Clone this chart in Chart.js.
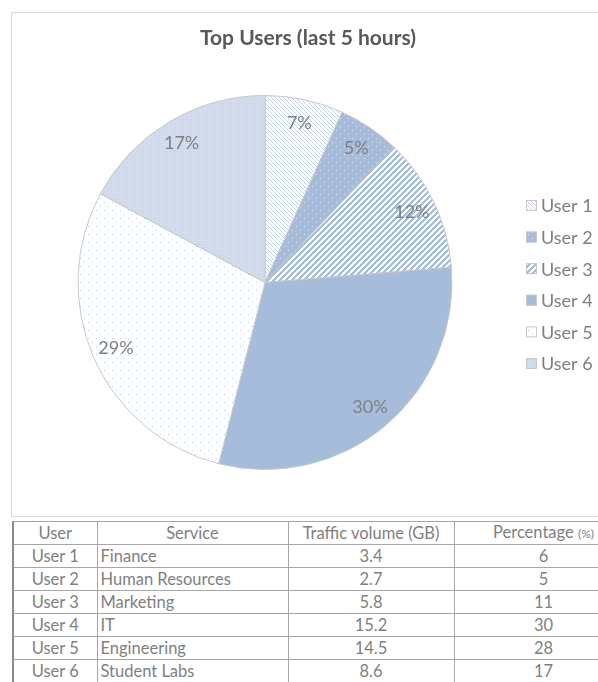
<!DOCTYPE html>
<html>
<head>
<meta charset="utf-8">
<script src="https://cdn.jsdelivr.net/npm/chart.js@4.4.1/dist/chart.umd.min.js"></script>
<style>
  body { margin: 0; background: #fff; font-family: Lato, "Open Sans", sans-serif; overflow: hidden; }
  #frame { position: absolute; left: 11px; top: 12px; width: 600px; height: 505px; border: 1px solid #d9d9d9; box-sizing: border-box; }
  #chartWrap { position: absolute; left: 11px; top: 13px; width: 586px; height: 504px; }
  table { position: absolute; left: 12px; top: 521px; border-collapse: collapse; table-layout: fixed; width: 620px; color: #7f7f7f; font-size: 16.5px; }
  td, th { border: 1px solid #a6a6a6; height: 22px; padding: 0 3px; font-weight: normal; white-space: nowrap; overflow: hidden; line-height: 20px; }
  td:first-child, th:first-child { border-left: 2px solid #8c8c8c; }
  .c { text-align: center; }
  .l { text-align: left; }
  small { font-size: 12px; }
</style>
</head>
<body>
<div id="frame"></div>
<div id="chartWrap"><canvas id="pie" width="586" height="504"></canvas></div>
<table id="tbl">
  <colgroup><col style="width:84px"><col style="width:191px"><col style="width:166px"><col style="width:179px"></colgroup>
  <thead></thead>
  <tbody></tbody>
</table>
<script>
// data
const users = ["User 1", "User 2", "User 3", "User 4", "User 5", "User 6"];
const services = ["Finance", "Human Resources", "Marketing", "IT", "Engineering", "Student Labs"];
const trafficGB = [3.4, 2.7, 5.8, 15.2, 14.5, 8.6];
const percentCol = [6, 5, 11, 30, 28, 17];
const headers = ["User", "Service", "Traffic volume (GB)", "Percentage"];
const chartTitle = "Top Users (last 5 hours)";

const BLUE = "#a5bddb";
const FONT = "Lato, 'Open Sans', sans-serif";

// small tile patterns, like the office fill styles
function makePattern(size, draw) {
  const c = document.createElement("canvas");
  c.width = c.height = size;
  const g = c.getContext("2d");
  draw(g, size);
  return g.createPattern(c, "repeat");
}

const fills = [
  // thin "\" hatch
  makePattern(4, (g, s) => {
    g.fillStyle = "#fff"; g.fillRect(0, 0, s, s);
    g.fillStyle = "#c3d3e8";
    for (let x = 0; x < s; x++) g.fillRect(x, x, 1, 1);
  }),
  // blue with white dots
  makePattern(8, (g, s) => {
    g.fillStyle = BLUE; g.fillRect(0, 0, s, s);
    g.fillStyle = "#dfe8f4";
    g.fillRect(1, 1, 1, 1); g.fillRect(5, 5, 1, 1);
  }),
  // wide "/" stripes
  makePattern(6, (g, s) => {
    g.fillStyle = "#fff"; g.fillRect(0, 0, s, s);
    g.fillStyle = BLUE;
    for (let x = 0; x < s; x++)
      for (let y = 0; y < s; y++)
        if ((x + y) % 6 < 3) g.fillRect(x, y, 1, 1);
  }),
  BLUE,
  // white with sparse blue dots
  makePattern(8, (g, s) => {
    g.fillStyle = "#fff"; g.fillRect(0, 0, s, s);
    g.fillStyle = "#bccde6";
    g.fillRect(1, 1, 1, 1); g.fillRect(5, 5, 1, 1);
  }),
  // light blue fine checker
  makePattern(4, (g, s) => {
    g.fillStyle = "#d5dfef"; g.fillRect(0, 0, s, s);
    g.fillStyle = "#c2d1e8";
    g.fillRect(0, 0, 1, 1); g.fillRect(2, 2, 1, 1); g.fillRect(2, 0, 1, 1); g.fillRect(0, 2, 1, 1);
  })
];

// title centred on the whole frame, not on the pie
const frameTitle = {
  id: "frameTitle",
  afterDraw(chart) {
    const ctx = chart.ctx;
    ctx.save();
    ctx.font = "bold 21px " + FONT;
    ctx.fillStyle = "#595959";
    ctx.textAlign = "center";
    ctx.textBaseline = "middle";
    ctx.fillText(chartTitle, 297, 25);
    ctx.restore();
  }
};

// percentage labels placed inside each slice
const pctLabels = {
  id: "pctLabels",
  afterDatasetsDraw(chart) {
    const ctx = chart.ctx;
    const data = chart.data.datasets[0].data;
    const total = data.reduce((a, b) => a + b, 0);
    ctx.save();
    ctx.font = "18px " + FONT;
    ctx.fillStyle = "#7f7f7f";
    ctx.textAlign = "center";
    ctx.textBaseline = "middle";
    chart.getDatasetMeta(0).data.forEach((arc, i) => {
      const p = arc.getProps(["x", "y", "startAngle", "endAngle", "outerRadius"], true);
      const mid = (p.startAngle + p.endAngle) / 2;
      const r = p.outerRadius * 0.87;
      ctx.fillText(Math.round(data[i] / total * 100) + "%", p.x + Math.cos(mid) * r, p.y + Math.sin(mid) * r);
    });
    ctx.restore();
  }
};

// legend on the right, drawn from the chart's labels and fills
const sideLegend = {
  id: "sideLegend",
  afterDraw(chart) {
    const ctx = chart.ctx;
    const ds = chart.data.datasets[0];
    ctx.save();
    ctx.font = "18px " + FONT;
    ctx.textBaseline = "middle";
    chart.data.labels.forEach((lab, i) => {
      const y = 192.5 + i * 31.6;
      ctx.fillStyle = ds.backgroundColor[i];
      ctx.fillRect(515, y - 5.5, 11, 11);
      ctx.strokeStyle = "#c8c8c8";
      ctx.lineWidth = 1;
      ctx.strokeRect(515.5, y - 5, 10, 10);
      ctx.fillStyle = "#7f7f7f";
      ctx.fillText(lab, 530, y + 1);
    });
    ctx.restore();
  }
};

new Chart(document.getElementById("pie"), {
  type: "pie",
  data: {
    labels: users,
    datasets: [{
      data: trafficGB,
      backgroundColor: fills,
      borderColor: "#c8c8c8",
      borderWidth: 1
    }]
  },
  options: {
    responsive: false,
    animation: false,
    layout: { padding: { left: 0, right: 78, top: 82, bottom: 47 } },
    plugins: {
      legend: { display: false },
      tooltip: { enabled: false },
      title: { display: false }
    }
  },
  plugins: [pctLabels, sideLegend, frameTitle]
});

// table under the chart
const thead = document.querySelector("#tbl thead");
thead.innerHTML = "<tr>" + headers.map((h, i) =>
  `<th class="c">${h}${i === 3 ? " <small>(%)</small>" : ""}</th>`).join("") + "</tr>";
document.querySelector("#tbl tbody").innerHTML = users.map((u, i) =>
  `<tr><td class="c">${u}</td><td class="l">${services[i]}</td><td class="c">${trafficGB[i]}</td><td class="c">${percentCol[i]}</td></tr>`
).join("");
</script>
</body>
</html>
